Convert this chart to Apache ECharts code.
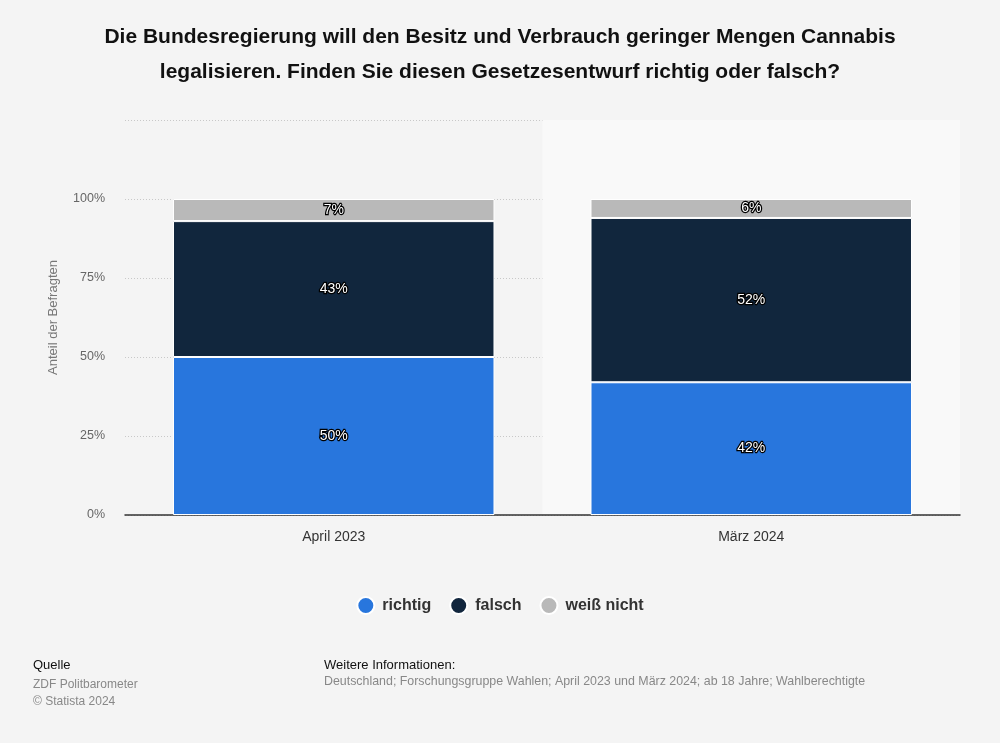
<!DOCTYPE html>
<html><head><meta charset="utf-8">
<script src="https://cdn.jsdelivr.net/npm/echarts@6/dist/echarts.min.js"></script>
<style>html,body{margin:0;padding:0;background:#f4f4f4;}#c{width:1000px;height:743px;}</style>
</head><body><div id="c"></div>
<script>
const categories = ['April 2023', 'März 2024'];
const richtig = [50, 42];
const falsch = [43, 52];
const weissNicht = [7, 6];
const seriesNames = ['richtig', 'falsch', 'weiß nicht'];
const colors = ['#2876dd', '#11263d', '#b9b9b9'];
const yTicks = [0, 25, 50, 75, 100];

const font = '"Liberation Sans", Arial, sans-serif';
const chart = echarts.init(document.getElementById('c'));
const lbl = {
  show: true, position: 'inside', formatter: p => p.value + '%',
  color: '#fff', fontFamily: font, fontSize: 14,
  textBorderColor: '#000', textBorderWidth: 2.5
};
function mk(name, data, color) {
  return {
    name, type: 'bar', stack: 'a', data, barWidth: '77%',
    itemStyle: { color, borderColor: '#fff', borderWidth: 1 },
    label: lbl, emphasis: { disabled: true }
  };
}
chart.setOption({
  backgroundColor: '#f4f4f4',
  animation: false,
  textStyle: { fontFamily: font },
  title: {
    text: 'Die Bundesregierung will den Besitz und Verbrauch geringer Mengen Cannabis\nlegalisieren. Finden Sie diesen Gesetzesentwurf richtig oder falsch?',
    left: 'center', top: 15,
    textStyle: { fontFamily: font, fontSize: 21, fontWeight: 'bold', color: '#111', lineHeight: 35 }
  },
  color: colors,
  legend: {
    bottom: 123, left: 'center', icon: 'circle', itemWidth: 17, itemHeight: 17, itemGap: 18,
    textStyle: { fontFamily: font, fontSize: 16, fontWeight: 'bold', color: '#333', padding: [0, 0, 0, 3] },
    data: seriesNames
  },
  grid: { left: 125, right: 40, top: 120, bottom: 228 },
  xAxis: {
    type: 'category', data: categories,
    axisLine: { lineStyle: { color: '#333', width: 1.5 } },
    axisTick: { show: false },
    axisLabel: { fontFamily: font, fontSize: 14, color: '#333', margin: 15 },
    splitArea: { show: true, areaStyle: { color: ['rgba(0,0,0,0)', '#f9f9f9'] } }
  },
  yAxis: {
    type: 'value', min: 0, max: 125, interval: 25,
    name: 'Anteil der Befragten', nameLocation: 'middle', nameGap: 65,
    nameTextStyle: { fontFamily: font, fontSize: 13, color: '#777' },
    axisLabel: { fontFamily: font, fontSize: 12.5, color: '#666', margin: 20,
      formatter: v => yTicks.includes(v) ? v + '%' : '' },
    splitLine: { lineStyle: { type: [1, 2], color: '#c8c8c8' } },
    axisLine: { show: false }, axisTick: { show: false }
  },
  series: [mk(seriesNames[0], richtig, colors[0]), mk(seriesNames[1], falsch, colors[1]), mk(seriesNames[2], weissNicht, colors[2])],
  graphic: [
    { type: 'text', left: 33, top: 659, style: { text: 'Quelle', font: '13px ' + font, fill: '#111' } },
    { type: 'text', left: 33, top: 676, style: { text: 'ZDF Politbarometer\n© Statista 2024', font: '12px ' + font, fill: '#888', lineHeight: 17 } },
    { type: 'text', left: 324, top: 659, style: { text: 'Weitere Informationen:', font: '13px ' + font, fill: '#111' } },
    { type: 'text', left: 324, top: 676, style: { text: 'Deutschland; Forschungsgruppe Wahlen; April 2023 und März 2024; ab 18 Jahre; Wahlberechtigte', font: '12.4px ' + font, fill: '#888' } }
  ]
});
</script></body></html>
